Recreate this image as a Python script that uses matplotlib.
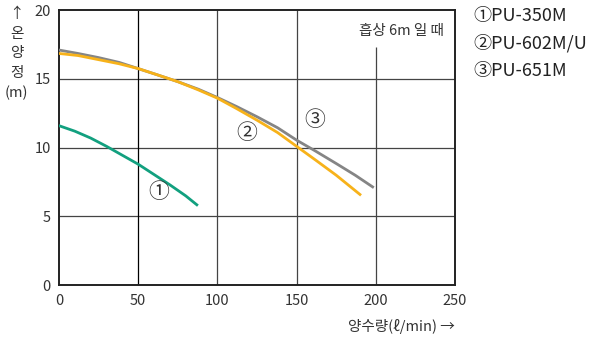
import matplotlib.pyplot as plt

plt.rcParams['font.family'] = ['Noto Sans CJK KR', 'DejaVu Sans']

flow_1 = [0, 10, 20, 30, 40, 50, 60, 70, 80, 87]
head_1 = [11.6, 11.2, 10.7, 10.1, 9.45, 8.8, 8.05, 7.3, 6.5, 5.85]

flow_2 = [0, 12, 25, 38, 50, 62, 75, 88, 100, 112, 125, 138, 150, 162, 175, 190]
head_2 = [16.85, 16.7, 16.4, 16.1, 15.75, 15.3, 14.8, 14.2, 13.6, 12.85, 12.0, 11.1, 10.1, 9.1, 8.0, 6.6]

flow_3 = [0, 12, 25, 38, 50, 62, 75, 88, 100, 112, 125, 138, 150, 162, 175, 187, 198]
head_3 = [17.1, 16.85, 16.55, 16.2, 15.75, 15.3, 14.8, 14.25, 13.65, 13.0, 12.25, 11.45, 10.55, 9.75, 8.85, 8.0, 7.15]

models = ['①PU-350M', '②PU-602M/U', '③PU-651M']
x_ticks = [0, 50, 100, 150, 200, 250]
y_ticks = [0, 5, 10, 15, 20]

fig = plt.figure(figsize=(5.95, 3.38), dpi=100)
ax = fig.add_axes([0.0992, 0.156, 0.6655, 0.814])

# grid (the 200 line stops under the note)
for yv in [5, 10, 15]:
    ax.hlines(yv, 0, 250, color='#444444', lw=0.9, zorder=1)
ax.vlines(50, 0, 20, color='black', lw=0.9, zorder=1)
ax.vlines(100, 0, 20, color='#444444', lw=0.9, zorder=1)
ax.vlines(150, 0, 20, color='#444444', lw=0.9, zorder=1)
ax.vlines(200, 0, 17.3, color='#444444', lw=0.9, zorder=1)

ax.plot(flow_1, head_1, color='#12a07f', lw=2.0, zorder=3)
ax.plot(flow_3, head_3, color='#858585', lw=2.0, zorder=3)
ax.plot(flow_2, head_2, color='#f7b21a', lw=2.0, zorder=4)

ax.text(63, 6.75, '①', fontsize=15, ha='center', va='center', color='#333333')
ax.text(118.7, 11.06, '②', fontsize=15, ha='center', va='center', color='#333333')
ax.text(161.6, 12.0, '③', fontsize=15, ha='center', va='center', color='#333333')

ax.text(243, 18.5, '흡상 6m 일 때', fontsize=10.5, ha='right', va='center', color='#333333')

ax.set_xlim(0, 250)
ax.set_ylim(0, 20)
ax.set_xticks(x_ticks)
ax.set_yticks(y_ticks)
ax.tick_params(length=0, labelsize=10.5, colors='#333333', pad=6)
for s in ax.spines.values():
    s.set_color('#222222')
    s.set_linewidth(1.4)

fig.text(0.028, 0.978, '↑\n온\n양\n정\n(m)', fontsize=10.5, ha='center', va='top',
         color='#333333', linespacing=1.5)
fig.text(0.765, 0.035, '양수량(ℓ/min) →', fontsize=10.5, ha='right', va='center', color='#333333')

for i, m in enumerate(models):
    fig.text(0.795, 0.952 - i * 0.081, m, fontsize=13, ha='left', va='center', color='#222222')

fig.savefig('out.png', dpi=100)
